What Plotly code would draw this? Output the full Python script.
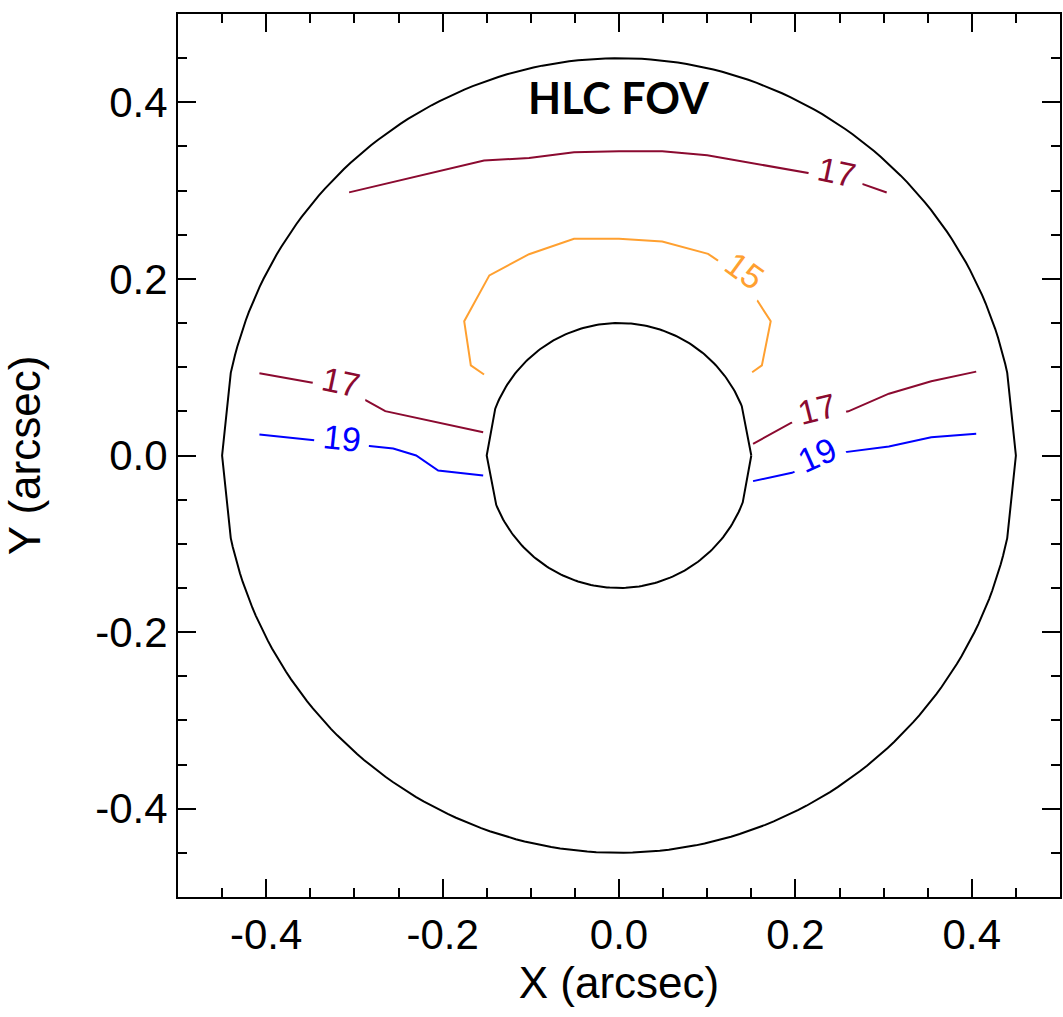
import numpy as np
import plotly.graph_objects as go

# ---- data (arcsec) ----
r_outer = 0.45
r_inner = 0.15

tick_vals = [-0.4, -0.2, 0.0, 0.2, 0.4]
tick_text = ["-0.4", "-0.2", "0.0", "0.2", "0.4"]

top17_x = [-0.306, -0.153, -0.102, -0.051, 0.0, 0.049, 0.100, 0.151, 0.266, 0.3035]
top17_y = [0.298, 0.334, 0.337, 0.3435, 0.3446, 0.3446, 0.340, 0.331, 0.311, 0.2978]

left17_x = [-0.4077, -0.311, -0.265, -0.2073, -0.154]
left17_y = [0.0932, 0.0758, 0.0502, 0.0374, 0.0264]

left19_x = [-0.4077, -0.256, -0.230, -0.205, -0.154]
left19_y = [0.0238, 0.0079, 0.0, -0.017, -0.0227]

right17_x = [0.152, 0.195, 0.26, 0.306, 0.354, 0.405]
right17_y = [0.0132, 0.037, 0.050, 0.070, 0.084, 0.095]

right19_x = [0.152, 0.196, 0.25, 0.306, 0.354, 0.405]
right19_y = [-0.029, -0.0196, 0.003, 0.0102, 0.0207, 0.0246]

c15_x = [-0.153, -0.168, -0.1755, -0.147, -0.102, -0.051, 0.0, 0.049, 0.101, 0.139, 0.1548, 0.172, 0.162, 0.151]
c15_y = [0.0917, 0.102, 0.152, 0.204, 0.228, 0.2454, 0.2454, 0.2424, 0.2284, 0.2025, 0.1786, 0.152, 0.102, 0.0943]

# contour labels: text, x, y, angle, colour
label_text = ["17", "19", "17", "15", "17", "19"]
label_x = [-0.3154, -0.3137, 0.2469, 0.1433, 0.2242, 0.2242]
label_y = [0.0832, 0.0193, 0.3216, 0.2095, 0.0532, 0.0011]
label_angle = [12, 6, 12, 36, -14, -24]

C17 = "#8B0A30"
C19 = "#0000FF"
C15 = "#FFA030"
label_color = [C17, C19, C17, C15, C17, C19]


def ring(r, edge_deg):
    # circle with straight chords near the +/- x axis, as in the original contouring
    parts = []
    for a0, a1 in [(edge_deg, 180 - edge_deg), (180 + edge_deg, 360 - edge_deg)]:
        parts.append(np.linspace(a0, a1, 120))
    ang = np.concatenate([[0.0], parts[0], [180.0], parts[1], [360.0]])
    t = np.radians(ang)
    return r * np.cos(t), r * np.sin(t)


fig = go.Figure()

ox, oy = ring(r_outer, 12.0)
ix, iy = ring(r_inner, 20.7)
fig.add_trace(go.Scatter(x=ox, y=oy, mode="lines", line=dict(color="black", width=2)))
fig.add_trace(go.Scatter(x=ix, y=iy, mode="lines", line=dict(color="black", width=2)))

for xs, ys, col in [(top17_x, top17_y, C17), (left17_x, left17_y, C17), (right17_x, right17_y, C17),
                    (left19_x, left19_y, C19), (right19_x, right19_y, C19), (c15_x, c15_y, C15)]:
    fig.add_trace(go.Scatter(x=xs, y=ys, mode="lines", line=dict(color=col, width=2)))

for t, x, y, a, c in zip(label_text, label_x, label_y, label_angle, label_color):
    fig.add_annotation(x=x, y=y, text=t, showarrow=False, textangle=a,
                       font=dict(family="Liberation Sans", size=34, color=c),
                       bgcolor="white", borderpad=8, xanchor="center", yanchor="middle")

fig.add_annotation(x=0.0, y=0.405, text="<b>HLC FOV</b>", showarrow=False,
                   font=dict(family="Lato", size=43, color="black"),
                   xanchor="center", yanchor="middle")

axis_common = dict(
    range=[-0.5, 0.5], showgrid=False, zeroline=False,
    showline=True, linecolor="black", linewidth=2, mirror="allticks",
    ticks="inside", ticklen=18, tickwidth=2, tickcolor="black",
    tickmode="array", tickvals=tick_vals, ticktext=tick_text,
    tickfont=dict(family="Liberation Sans", size=42, color="black"),
    minor=dict(dtick=0.05, tick0=0, ticks="inside", ticklen=9, tickwidth=2, tickcolor="black", showgrid=False),
)

fig.update_layout(
    width=1063, height=1017,
    margin=dict(l=178, r=1, t=14, b=120),
    plot_bgcolor="white", paper_bgcolor="white",
    showlegend=False,
    xaxis=dict(axis_common, title=dict(text="X (arcsec)", font=dict(family="Liberation Sans", size=44, color="black"), standoff=4)),
    yaxis=dict(axis_common, title=dict(text="Y (arcsec)", font=dict(family="Liberation Sans", size=44, color="black"), standoff=44)),
)

fig.write_html("out.html")
